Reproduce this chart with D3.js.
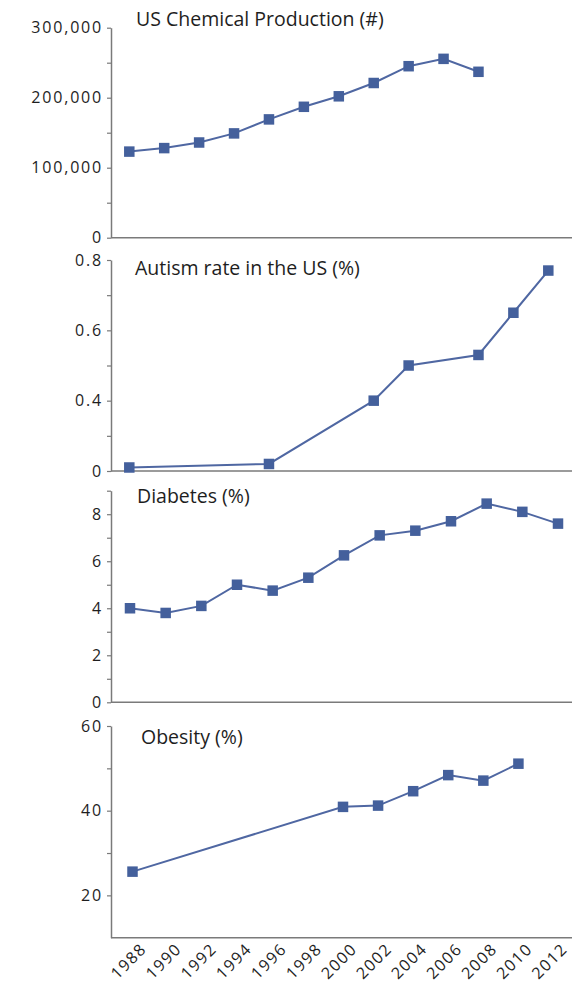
<!DOCTYPE html>
<html><head><meta charset="utf-8">
<script src="https://cdn.jsdelivr.net/npm/d3@7"></script>
<style>
html,body{margin:0;padding:0;background:#fff;}
svg{display:block;}
text{font-family:"Open Sans","Lato",sans-serif;fill:#1e1e1e;}
</style></head>
<body><svg id="chart" width="577" height="988"></svg>
<script>
// ---------- data ----------
const yearTicks = [1988,1990,1992,1994,1996,1998,2000,2002,2004,2006,2008,2010,2012];

const chemYears  = [1988,1990,1992,1994,1996,1998,2000,2002,2004,2006,2008];
const chemValues = [123000,128000,136000,149000,169000,187000,202000,221000,245000,255500,237000];
const chemTicks  = [0,100000,200000,300000];
const chemMinor  = [50000,150000,250000];

const autismYears  = [1988,1996,2002,2004,2008,2010,2012];
const autismValues = [0.02,0.04,0.40,0.50,0.53,0.65,0.77];
const autismTicks  = [0,0.4,0.6,0.8];
const autismMinor  = [0.2,0.5,0.7];

const diabetesYears  = [1988,1990,1992,1994,1996,1998,2000,2002,2004,2006,2008,2010,2012];
const diabetesValues = [4.0,3.8,4.1,5.0,4.75,5.3,6.25,7.1,7.3,7.7,8.45,8.1,7.6];
const diabetesTicks  = [0,2,4,6,8];
const diabetesMinor  = [1,3,5,7,9];

const obesityYears  = [1988,2000,2002,2004,2006,2008,2010];
const obesityValues = [25.6,40.9,41.2,44.6,48.4,47.1,51.1];
const obesityTicks  = [20,40,60];
const obesityMinor  = [30,50];

const titles = ["US Chemical Production (#)","Autism rate in the US (%)","Diabetes (%)","Obesity (%)"];

// ---------- layout ----------
const svg = d3.select("#chart");
const axisLeftX = 111, axisRightX = 572;
const yearDomain = [1988, 2012];
const lineColor = "#4f67a2", markColor = "#44609c", axisColor = "#7a7a7a";

function panel(cfg){
  const g = svg.append("g");
  const y = cfg.scale;
  const x = d3.scaleLinear().domain(yearDomain).range(cfg.xr);
  const allTicks = cfg.ticks.concat(cfg.minor);
  const ax = d3.axisLeft(y).tickValues(allTicks)
    .tickFormat(d => cfg.ticks.includes(d) ? cfg.fmt(d) : "")
    .tickSize(4).tickSizeOuter(0).tickPadding(4);
  const a = g.append("g").attr("transform",`translate(${axisLeftX},0)`).call(ax);
  a.select(".domain").attr("stroke",axisColor).attr("stroke-width",1.5);
  a.selectAll(".tick line").attr("stroke",axisColor).attr("stroke-width",1.2);
  a.selectAll(".tick text").attr("font-size",16).attr("fill","#1e1e1e")
    .attr("letter-spacing","1.8px")
    .attr("font-family","Open Sans, sans-serif");
  // baseline
  const yb = y.range()[0];
  g.append("line").attr("x1",axisLeftX).attr("x2",axisRightX)
    .attr("y1",yb).attr("y2",yb).attr("stroke",axisColor).attr("stroke-width",1.5);
  // title
  g.append("text").attr("x",cfg.tx).attr("y",cfg.ty).attr("font-size",19.5)
    .attr("dominant-baseline","middle").text(cfg.title);
  // line + markers
  const pts = cfg.years.map((yr,i)=>[yr,cfg.values[i]]);
  g.append("path").datum(pts)
    .attr("d", d3.line().x(d=>x(d[0])).y(d=>y(d[1])))
    .attr("fill","none").attr("stroke",lineColor).attr("stroke-width",2);
  const s = 10.5;
  g.selectAll("rect.m").data(pts).join("rect").attr("class","m")
    .attr("x",d=>x(d[0])-s/2).attr("y",d=>y(d[1])-s/2)
    .attr("width",s).attr("height",s).attr("fill",markColor);
  return x;
}

// panel 1
panel({scale:d3.scaleLinear().domain([0,300000]).range([237.7,27.7]), xr:[129.3,548.3],
  ticks:chemTicks, minor:chemMinor, fmt:d3.format(","),
  years:chemYears, values:chemValues, title:titles[0], tx:136, ty:21});

// panel 2 (axis labelled 0, 0.4, 0.6, 0.8 at equal spacing)
const aBot = 471, aTop = 260, aH = aBot - aTop;
panel({scale:d3.scaleLinear().domain(autismTicks).range([aBot, aBot-aH/3, aBot-2*aH/3, aTop]), xr:[129.3,548.3],
  ticks:autismTicks, minor:autismMinor, fmt:d=>d===0?"0":d3.format(".1f")(d),
  years:autismYears, values:autismValues, title:titles[1], tx:135, ty:270});

// panel 3
panel({scale:d3.scaleLinear().domain([0,9]).range([702.3,490.7]), xr:[130,558],
  ticks:diabetesTicks, minor:diabetesMinor, fmt:d3.format("d"),
  years:diabetesYears, values:diabetesValues, title:titles[2], tx:137, ty:498});

// panel 4
const xBottom = panel({scale:d3.scaleLinear().domain([10,60]).range([937.7,726]), xr:[132.5,553.5],
  ticks:obesityTicks, minor:obesityMinor, fmt:d3.format("d"),
  years:obesityYears, values:obesityValues, title:titles[3], tx:141, ty:739});

// x labels (rotated)
svg.append("g").selectAll("text").data(yearTicks).join("text")
  .attr("transform", d=>`translate(${xBottom(d)+15},${950}) rotate(-45)`)
  .attr("text-anchor","end").attr("font-size",16).attr("letter-spacing","1.5px").text(d=>d);
</script></body></html>
